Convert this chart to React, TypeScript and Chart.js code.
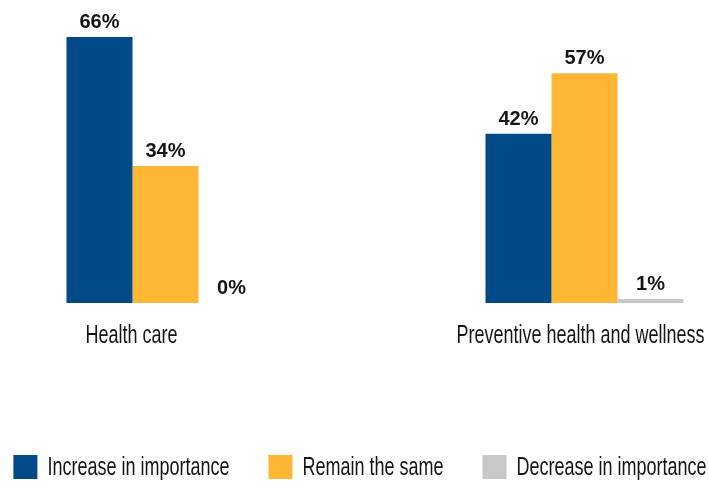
import React, { useEffect, useRef } from "react";
import { Chart, registerables } from "chart.js";

Chart.register(...registerables);

const categories = ["Health care", "Preventive health and wellness"];
const seriesNames = ["Increase in importance", "Remain the same", "Decrease in importance"];
const increaseValues = [66, 42];
const remainValues = [34, 57];
const decreaseValues = [0, 1];
const seriesColors = ["#004B87", "#FDB735", "#C8C8C8"];

const FAMILY = "'Liberation Sans', Arial, sans-serif";
const TEXT = "#151515";
// condensed look: draw big text squeezed horizontally
const TEXT_SIZE = 25;
const LEGEND_MEASURE_SIZE = 18;
const SQUEEZE = LEGEND_MEASURE_SIZE / TEXT_SIZE;

function drawCondensed(ctx: any, text: string, x: number, y: number, align: string) {
  ctx.save();
  ctx.font = `${TEXT_SIZE}px ${FAMILY}`;
  ctx.fillStyle = TEXT;
  ctx.textAlign = align;
  ctx.translate(x, y);
  ctx.scale(SQUEEZE, 1);
  ctx.fillText(text, 0, 0);
  ctx.restore();
}

const valueLabels = {
  id: "valueLabels",
  afterDatasetsDraw(chart: any) {
    const ctx = chart.ctx;
    ctx.save();
    ctx.font = `bold 20px ${FAMILY}`;
    ctx.fillStyle = TEXT;
    ctx.textAlign = "center";
    ctx.textBaseline = "alphabetic";
    chart.data.datasets.forEach((ds: any, i: number) => {
      const meta = chart.getDatasetMeta(i);
      meta.data.forEach((bar: any, j: number) => {
        ctx.fillText(`${ds.data[j]}%`, bar.x, bar.y - 9);
      });
    });
    ctx.restore();
  },
};

const LABEL_SHIFT = [-34, -4];
const categoryLabels = {
  id: "categoryLabels",
  afterDraw(chart: any) {
    const ctx = chart.ctx;
    const xs = chart.scales.x;
    ctx.save();
    ctx.textBaseline = "alphabetic";
    chart.data.labels.forEach((lab: string, j: number) => {
      drawCondensed(ctx, lab, xs.getPixelForValue(j) + LABEL_SHIFT[j], chart.chartArea.bottom + 40, "center");
    });
    ctx.restore();
  },
};

const legendText = {
  id: "legendText",
  afterDraw(chart: any) {
    const lg = chart.legend;
    if (!lg || !lg.legendHitBoxes) return;
    const ctx = chart.ctx;
    const box = lg.options.labels.boxWidth;
    ctx.save();
    ctx.textBaseline = "middle";
    lg.legendItems.forEach((item: any, i: number) => {
      const hb = lg.legendHitBoxes[i];
      drawCondensed(ctx, item.text, hb.left + box + 10, hb.top + hb.height / 2 + 1, "left");
    });
    ctx.restore();
  },
};

export default function App() {
  const ref = useRef<HTMLCanvasElement>(null);
  useEffect(() => {
    if (!ref.current) return;
    const all = [increaseValues, remainValues, decreaseValues];
    const chart = new Chart(ref.current, {
      type: "bar",
      data: {
        labels: categories,
        datasets: all.map((vals, i) => ({
          label: seriesNames[i],
          data: vals,
          backgroundColor: seriesColors[i],
          borderWidth: 0,
          categoryPercentage: 0.4726,
          barPercentage: 1,
          clip: false as any,
        })),
      },
      options: {
        animation: false,
        responsive: true,
        maintainAspectRatio: false,
        layout: { padding: { top: 37, bottom: 0, left: -45, right: -55 } },
        plugins: {
          tooltip: { enabled: false },
          legend: {
            position: "bottom",
            labels: {
              boxWidth: 24,
              boxHeight: 24,
              padding: 40,
              color: "rgba(0,0,0,0)",
              font: { size: LEGEND_MEASURE_SIZE, family: FAMILY },
            },
          },
        },
        scales: {
          x: {
            offset: false,
            grid: { display: false, offset: false },
            border: { display: false },
            ticks: { display: false },
            afterFit(scale: any) {
              scale.height = 112;
            },
          },
          y: {
            position: "left",
            min: 0,
            max: 66,
            grid: { display: false },
            border: { display: false },
            ticks: { display: false },
            afterFit(scale: any) {
              scale.width = 210.5;
            },
          },
          yR: {
            position: "right",
            min: 0,
            max: 1,
            grid: { display: false },
            border: { display: false },
            ticks: { display: false },
            afterFit(scale: any) {
              scale.width = 179.5;
            },
          },
        },
      },
      plugins: [valueLabels, categoryLabels, legendText],
    });
    return () => chart.destroy();
  }, []);
  return (
    <div style={{ position: "fixed", left: 0, top: 0, width: 709, height: 489, background: "#fff" }}>
      <canvas ref={ref} />
    </div>
  );
}
